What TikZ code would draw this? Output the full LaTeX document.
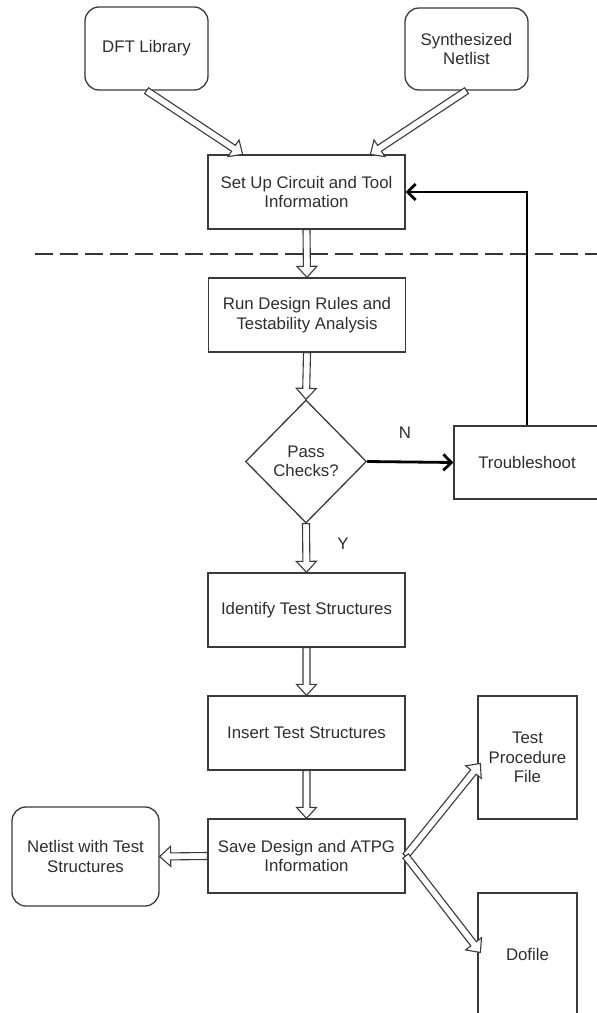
\documentclass[tikz,border=0pt]{standalone}
\usepackage{fontspec}
\setmainfont{Liberation Sans}
\usetikzlibrary{calc,shapes.geometric,arrows.meta}

\definecolor{edge}{HTML}{3A3A3A}
\definecolor{ink}{HTML}{2E2E2E}

\tikzset{
  x=1pt, y=-1pt,
  base/.style={draw=edge, line width=1.3pt, text=ink, align=center,
    font=\fontsize{16.8}{19.5}\selectfont, inner sep=0pt},
  stepbox/.style={base, rectangle, minimum width=197pt, minimum height=74pt},
  datafile/.style={base, rectangle, rounded corners=14pt},
  docbox/.style={base, rectangle, minimum width=99pt, minimum height=123pt},
  decision/.style={base, diamond, aspect=1, minimum width=121pt, minimum height=123pt},
  tag/.style={text=ink, font=\fontsize{16.8}{19.5}\selectfont, inner sep=0pt},
  harrow/.style={draw=edge, line width=1.1pt, fill=white, line join=miter},
  flow/.style={draw=black, line width=2.8pt, -{Straight Barb[length=8pt,width=16pt]}},
  phase/.style={draw=edge!90!black, line width=2.2pt, dash pattern=on 18pt off 7pt}
}

% hollow block arrow from #1 to #2
\newcommand\hollowarrow[2]{%
  \path ($(#2)!11pt!(#1)$) coordinate (hb);
  \draw[harrow] ($(#1)!3.5pt!90:(#2)$) -- ($(hb)!3.5pt!90:(#2)$)
    -- ($(hb)!10pt!90:(#2)$) -- (#2) -- ($(hb)!10pt!-90:(#2)$)
    -- ($(hb)!3.5pt!-90:(#2)$) -- ($(#1)!3.5pt!-90:(#2)$) -- cycle;
}

\begin{document}
\begin{tikzpicture}
\useasboundingbox (0,0) rectangle (597,1013);

% inputs
\node[datafile, minimum width=123pt, minimum height=83pt] (dft) at (146.5,48.5) {DFT Library};
\node[datafile, minimum width=123pt, minimum height=82pt] (synth) at (466.5,49) {Synthesized\\Netlist};

% main flow
\node[stepbox] (setup) at (306.5,192) {Set Up Circuit and Tool\\Information};
\draw[phase] (35,254) -- (597,254);
\node[stepbox] (rundrc) at (307,315) {Run Design Rules and\\Testability Analysis};
\node[decision] (check) at (306,461.5) {Pass\\Checks?};
\node[base, rectangle, minimum width=146pt, minimum height=73pt] (trouble) at (527,462.5) {Troubleshoot};
\node[stepbox] (identify) at (306.5,610) {Identify Test Structures};
\node[stepbox] (insert) at (306.5,733) {Insert Test Structures};
\node[stepbox] (save) at (306.5,856) {Save Design and ATPG\\Information};

% outputs
\node[datafile, minimum width=147pt, minimum height=99pt] (netlist) at (85.5,856.5) {Netlist with Test\\Structures};
\node[docbox] (testproc) at (527.5,757.5) {Test\\Procedure\\File};
\node[docbox] (dofile) at (527.5,954.5) {Dofile};

% branch labels
\node[tag] (nlab) at (405,433) {N};
\node[tag] (ylab) at (343,544) {Y};

% arrow end points on box edges
\coordinate (dftin) at ($(setup.north west)!0.178!(setup.north east)$);
\coordinate (synthin) at ($(setup.north west)!0.822!(setup.north east)$);
\coordinate (procin) at ($(testproc.west)+(3,6)$);
\coordinate (doin) at ($(dofile.west)+(3,-2)$);

% hollow block arrows
\hollowarrow{dft.south}{dftin}
\hollowarrow{synth.south}{synthin}
\hollowarrow{setup.south}{rundrc.north}
\hollowarrow{rundrc.south}{check.north}
\hollowarrow{check.south}{identify.north}
\hollowarrow{identify.south}{insert.north}
\hollowarrow{insert.south}{save.north}
\hollowarrow{save.west}{netlist.east}
\hollowarrow{save.east}{procin}
\hollowarrow{save.east}{doin}

% decision and feedback loop
\draw[flow] (check.east) -- (trouble.west);
\draw[flow] (trouble.north) |- (setup.east);
\end{tikzpicture}
\end{document}
